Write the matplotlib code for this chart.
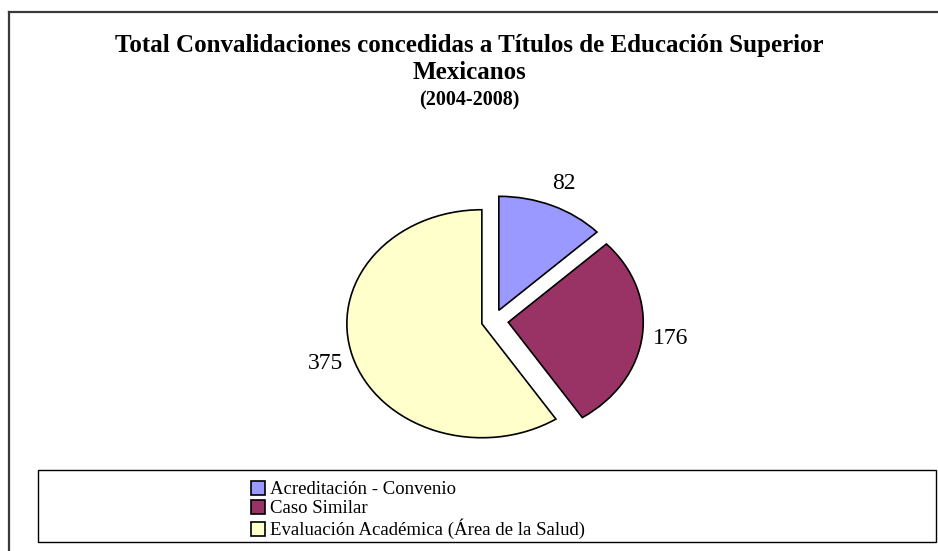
import matplotlib
matplotlib.use("Agg")
import matplotlib.pyplot as plt
from matplotlib.patches import Rectangle
from matplotlib.lines import Line2D

# data
categories = ["Acreditación - Convenio", "Caso Similar", "Evaluación Académica (Área de la Salud)"]
values = [82, 176, 375]
colors = ["#9999FF", "#993366", "#FFFFCC"]
explode = [0.1, 0.11, 0.09]

W, H = 938, 551
plt.rcParams['font.family'] = ['Liberation Serif', 'DejaVu Serif']
fig = plt.figure(figsize=(W / 100, H / 100), dpi=100)

def fx(px):
    return px / W

def fy(py):
    return 1 - py / H

# outer chart frame (right and bottom edges run off the picture)
fig.add_artist(Line2D([fx(9), fx(9)], [fy(12), -0.1], color="#3a3a3a", lw=1.6))
fig.add_artist(Line2D([fx(9), 1.1], [fy(12), fy(12)], color="#3a3a3a", lw=1.6))

# title
fig.text(0.5, fy(52), "Total Convalidaciones concedidas a Títulos de Educación Superior",
         ha="center", va="baseline", fontsize=18, fontweight="bold")
fig.text(0.5, fy(79), "Mexicanos", ha="center", va="baseline", fontsize=18, fontweight="bold")
fig.text(0.5, fy(105), "(2004-2008)", ha="center", va="baseline", fontsize=14.5, fontweight="bold")

# pie: stretched ellipse, radius 135 px wide and 114 px tall
cx, cy = 493.5, 320.8
rx, ry = 135, 114
aw, ah = 600, 420
ax = fig.add_axes([fx(cx - aw / 2), fy(cy + ah / 2), aw / W, ah / H])

wedges, texts = ax.pie(values, colors=colors, explode=explode, startangle=90,
                       counterclock=False, labels=[str(v) for v in values],
                       labeldistance=1.21,
                       wedgeprops=dict(edgecolor="black", linewidth=1.2),
                       textprops=dict(fontsize=17))
ax.set_aspect("auto")
ax.set_xlim(-aw / 2 / rx, aw / 2 / rx)
ax.set_ylim(-ah / 2 / ry, ah / 2 / ry)
ax.axis("off")
for t in texts:
    t.set_ha("center")
    t.set_va("center")

# legend box
fig.add_artist(Rectangle((fx(38), fy(542)), fx(936) - fx(38), fy(470) - fy(542),
                         facecolor="none", edgecolor="black", lw=1.0))
fig.legend(wedges, categories, loc="upper left",
           bbox_to_anchor=(fx(251), fy(481)), bbox_transform=fig.transFigure,
           frameon=False, fontsize=13.5, borderpad=0, borderaxespad=0,
           handlelength=0.75, handleheight=0.75, handletextpad=0.25,
           labelspacing=0.08)

fig.savefig("out.png", dpi=100)
